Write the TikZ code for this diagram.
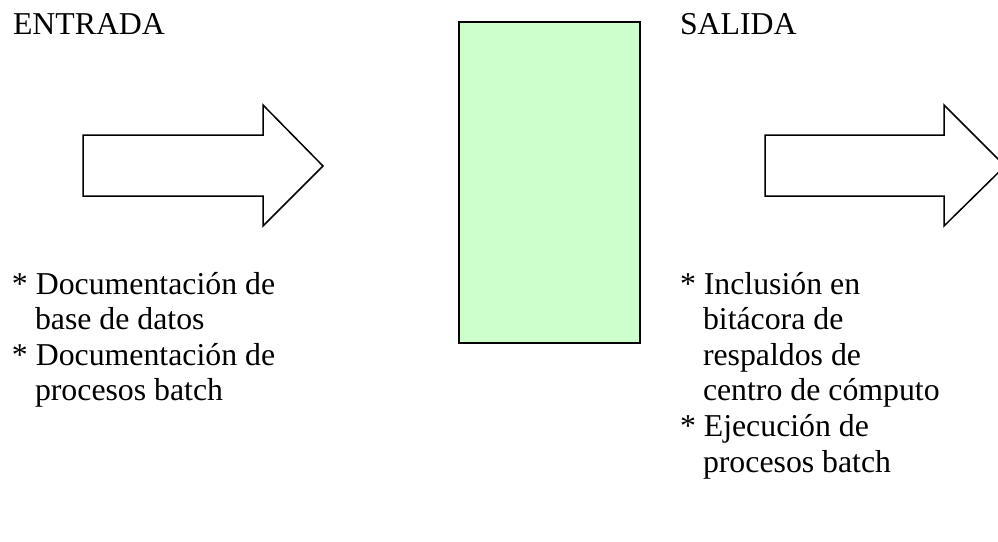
\documentclass[tikz,border=0pt]{standalone}
\usepackage{fontspec}
\setmainfont{Liberation Serif}
\definecolor{boxgreen}{HTML}{CCFFCC}
\begin{document}
\begin{tikzpicture}[x=1pt,y=-1pt,
  txt/.style={anchor=base west,inner sep=0pt,outer sep=0pt,font=\fontsize{31.8}{35.6}\selectfont},
  bigarrow/.style={draw=black,line width=1.5pt,fill=white,line join=miter},
  procbox/.style={draw=black,line width=1.8pt,fill=boxgreen}]
\useasboundingbox (0,0) rectangle (998,541);
\begin{scope}
\clip (0,0) rectangle (998,541);
% input arrow
\draw[bigarrow] (83,135) -- (263,135) -- (263,105) -- (323,166) -- (263,226) -- (263,196) -- (83,196) -- cycle;
% output arrow
\draw[bigarrow] (765,135) -- (944,135) -- (944,105) -- (1005,166) -- (944,226) -- (944,196) -- (765,196) -- cycle;
\end{scope}
% process box
\node[procbox,minimum width=181pt,minimum height=321pt,anchor=north west,inner sep=0pt] (box) at (458,21) {};
% titles
\node[txt] (entrada) at (13,34) {ENTRADA};
\node[txt] (salida) at (680,34) {SALIDA};
% input list
\node[txt] (in1) at (12,294) {* Documentación de};
\node[txt] (in2) at (35,329.6) {base de datos};
\node[txt] (in3) at (12,365.2) {* Documentación de};
\node[txt] (in4) at (35,400.8) {procesos batch};
% output list
\node[txt] (out1) at (680,294) {* Inclusión en};
\node[txt] (out2) at (703,329.6) {bitácora de};
\node[txt] (out3) at (703,365.2) {respaldos de};
\node[txt] (out4) at (703,400.8) {centro de cómputo};
\node[txt] (out5) at (680,436.4) {* Ejecución de};
\node[txt] (out6) at (703,472) {procesos batch};
\end{tikzpicture}
\end{document}
